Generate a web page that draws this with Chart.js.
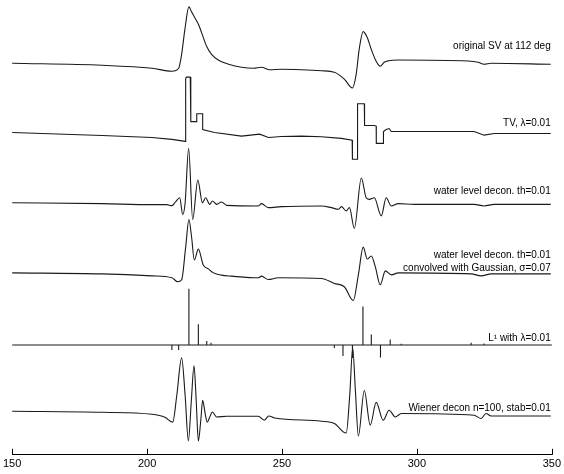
<html lang="en">
<head>
<meta charset="UTF-8">
<script src="https://cdn.jsdelivr.net/npm/chart.js@4.4.0/dist/chart.umd.min.js"></script>
<title>Deconvolution comparison</title>
<style>
  body { margin: 0; background: #fff; }
  canvas { display: block; }
</style>
</head>
<body>
<canvas id="chart" width="564" height="474"></canvas>
<script>
// time axis ticks
const xTicks = [150, 200, 250, 300, 350];

// original SV trace
const origT = [150, 183.3, 201.8, 209.2, 211.7, 212.8, 214.0, 215.5, 216.5, 217.7, 219.1, 220.2, 222.1, 223.9, 226.5, 230.2, 235.0, 239.5, 242.4, 245.4, 249.8, 257.2, 264.6, 269.4, 273.1, 276.1, 277.5, 278.6, 280.1, 281.6, 283.1, 284.9, 286.4, 287.9, 289.4, 293.1, 319.0, 322.7, 324.9, 327.5, 349.6];
const origV = [3, 1, -2, -5, -2, 12, 37, 60, 55, 49, 42, 34, 20, 12, 6, 2, -1, -2, -1, -3.5, -3, -3.5, -4.5, -6, -13, -22, -8, 17, 35, 29, 17, 5, 0, 4, 5.5, 6.3, 5.3, 4, 2, 3, 2];

// TV, lambda=0.01
const tvT = [150, 183.3, 201.8, 209.2, 214.2, 214.3, 214.5, 216.0, 216.2, 216.2, 218.4, 218.4, 220.6, 220.6, 225.0, 235.0, 241.7, 245.0, 249.8, 257.2, 264.6, 272.0, 276.0, 276.1, 277.9, 278.0, 280.5, 280.6, 284.2, 284.9, 284.95, 287.5, 287.6, 288.6, 289.7, 290.5, 294.2, 321.2, 324.9, 328.6, 349.6];
const tvV = [4, 1, -1, -3, -5, 58, 60, 60, 58, 15, 15, 23, 23, 7, 4, 0.3, 2.3, -1, 0, 0.3, -0.3, -2, -3.7, -23, -23, 33, 33, 11, 11, 10.5, -7, -7, 5, 7, 8, 5, 5, 5, 1.3, 3, 3];

// water level decon, th=0.01
const wlT = [150, 183.3, 201.8, 207.3, 209.2, 210.6, 212.1, 213.2, 214.1, 215.4, 216.9, 218.8, 220.5, 221.7, 223.2, 224.2, 225.8, 227.6, 229.5, 241.2, 242.4, 244.9, 249.8, 264.6, 268.3, 270.9, 272.0, 273.8, 275.0, 276.8, 279.4, 281.2, 282.4, 284.2, 286.8, 288.6, 290.5, 293.1, 299.0, 321.2, 324.9, 328.6, 349.6];
const wlV = [2, 1, 0, 0, -1, 3, 7, -10, 2, 57, -15, 25, 2, 7, 0.3, 3.7, 0.3, 2.7, -0.7, -1.3, 1, -3, -2, -1.3, -3, -4.7, -2, -6.3, -3, -24, 27, 7, 5.3, 7, -11.3, 7, -1.3, 1, 0.3, 0.3, -1.3, 0.3, 0.3];

// water level decon convolved with Gaussian
const gaussT = [150, 183.3, 201.8, 209.2, 211.4, 212.8, 214.3, 215.5, 216.5, 217.5, 219.0, 220.8, 222.7, 224.6, 227.6, 231.3, 241.2, 242.4, 244.9, 248.6, 264.6, 269.4, 273.1, 276.4, 278.3, 280.1, 281.6, 283.1, 284.6, 286.4, 288.3, 290.5, 293.1, 320.1, 323.8, 327.5, 349.6];
const gaussV = [2, 1, -1, -3, -7, -5, 28, 56, 38, 15, 26, 10, 6, 2, -0.3, -1.3, -3, -1.3, -4.7, -3, -3.7, -8.7, -12, -26, 0, 28, 16, 19, 8, -10, 4, 0, 2, 1, -1, 1, 1];

// L1 spikes, lambda=0.01
const l1T = [209.2, 211.7, 215.5, 219.0, 222.1, 223.7, 269.4, 272.6, 276.1, 280.0, 283.1, 286.5, 290.1, 294.2, 320.1, 324.9];
const l1V = [-5, -5, 57, 21, 4, 2.3, -3, -11, -13, 39, 10.7, -12.7, 5.7, 1.3, 2.3, 1.5];

// Wiener decon n=100, stab=0.01
const wienerT = [150, 183.3, 201.8, 206.6, 209.5, 211.0, 212.8, 214.1, 215.3, 216.4, 217.4, 218.2, 219.0, 219.9, 220.6, 221.5, 222.3, 223.2, 224.2, 225.8, 229.5, 241.2, 243.4, 245.1, 247.3, 264.6, 269.4, 273.8, 275.1, 276.2, 277.2, 278.3, 280.5, 282.7, 284.9, 287.5, 289.7, 292.0, 294.2, 321.2, 323.8, 325.6, 327.5, 349.6];
const wienerV = [4, 3, 1, -2, -7, 20, 58, 20, -26, 15, 50, 15, -26, -5, 15, 2, -7, -2, 3.3, -1.7, -1, -1, -5, -0.7, -2.7, -6, -8.3, -18, 20, 68, 25, -21, 25, -10, 13, -5, 5, -1.7, 1.7, 0, -3.3, 1.7, -0.7, -0.7];

const traceLabels = [
  'original SV at 112 deg',
  'TV, \u03bb=0.01',
  'water level decon. th=0.01',
  'water level decon. th=0.01',
  'convolved with Gaussian, \u03c3=0.07',
  'L\u00b9 with \u03bb=0.01',
  'Wiener decon n=100, stab=0.01'
];

// vertical placement of each trace
const offsets = [393, 322, 253, 182, 111, 40];
const labelY = [413, 335, 267, 202, 189, 118, 47];

function pts(ts, vs, off) {
  return ts.map((t, i) => ({ x: t, y: vs[i] + off }));
}

function sticks(ts, vs, off) {
  const out = [{ x: 150, y: off }];
  ts.forEach((t, i) => {
    out.push({ x: t, y: off }, { x: t, y: vs[i] + off }, { x: t, y: off });
  });
  out.push({ x: 350, y: off });
  return out;
}

const lineStyle = { borderColor: '#1a1a1a', borderWidth: 1.1, pointRadius: 0, fill: false, clip: false };
const smooth = { cubicInterpolationMode: 'monotone' };

const labelPlugin = {
  id: 'traceLabels',
  afterDatasetsDraw(chart) {
    const ctx = chart.ctx;
    const y = chart.scales.y;
    const x = chart.scales.x;
    ctx.save();
    ctx.fillStyle = '#000';
    ctx.font = '10px "Liberation Sans", Arial, sans-serif';
    ctx.textAlign = 'right';
    ctx.textBaseline = 'middle';
    traceLabels.forEach((txt, i) => {
      ctx.fillText(txt, x.getPixelForValue(349.6), y.getPixelForValue(labelY[i]));
    });
    // upward tick marks on the time axis
    ctx.strokeStyle = '#000';
    ctx.lineWidth = 1;
    const bottom = chart.chartArea.bottom;
    xTicks.forEach(v => {
      const px = Math.round(x.getPixelForValue(v)) + 0.5;
      ctx.beginPath();
      ctx.moveTo(px, bottom);
      ctx.lineTo(px, bottom - 6);
      ctx.stroke();
    });
    ctx.restore();
  }
};

new Chart(document.getElementById('chart').getContext('2d'), {
  type: 'line',
  data: {
    datasets: [
      { ...lineStyle, ...smooth, data: pts(origT, origV, offsets[0]) },
      { ...lineStyle, tension: 0, data: pts(tvT, tvV, offsets[1]) },
      { ...lineStyle, ...smooth, data: pts(wlT, wlV, offsets[2]) },
      { ...lineStyle, ...smooth, data: pts(gaussT, gaussV, offsets[3]) },
      { ...lineStyle, tension: 0, data: sticks(l1T, l1V, offsets[4]) },
      { ...lineStyle, ...smooth, data: pts(wienerT, wienerV, offsets[5]) }
    ]
  },
  options: {
    responsive: false,
    animation: false,
    layout: { padding: { left: 0, right: 2, top: 0, bottom: 0 } },
    plugins: { legend: { display: false }, tooltip: { enabled: false } },
    scales: {
      x: {
        type: 'linear',
        min: 150,
        max: 350,
        afterBuildTicks: axis => { axis.ticks = xTicks.map(v => ({ value: v })); },
        grid: { display: false, drawTicks: false },
        border: { display: true, color: '#000', width: 1 },
        ticks: {
          color: '#000',
          padding: 3,
          maxRotation: 0,
          font: { family: '"Liberation Sans", Arial, sans-serif', size: 11 }
        }
      },
      y: { display: false, min: 0, max: 460 }
    }
  },
  plugins: [labelPlugin]
});
</script>
</body>
</html>
